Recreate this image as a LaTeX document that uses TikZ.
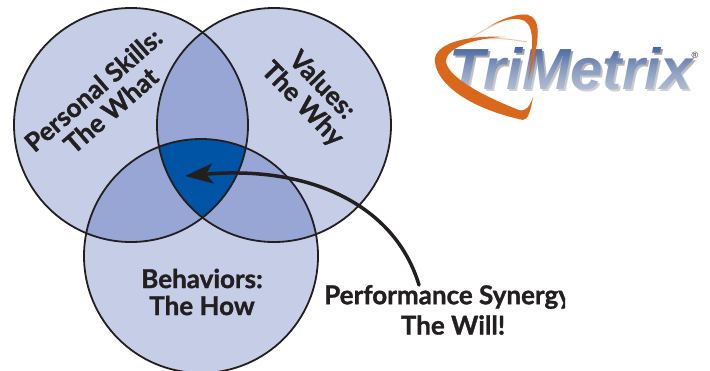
\documentclass[tikz,border=0pt]{standalone}
\usepackage{fontspec}
\setmainfont{Lato}[BoldFeatures={FakeBold=1.2}]
\newfontfamily\logofont{Liberation Sans}
\usetikzlibrary{arrows.meta}
\definecolor{vennlight}{HTML}{C5CDE7}
\definecolor{vennmid}{HTML}{97A6D4}
\definecolor{venndark}{HTML}{0054A6}
\definecolor{inkblack}{HTML}{231F20}
\definecolor{swoosh}{HTML}{D9681D}
\definecolor{swooshpale}{HTML}{F0C8A8}
\definecolor{logoblue}{HTML}{2A4E94}
\newcommand{\logoword}{\logofont\fontsize{58}{58}\selectfont\bfseries\itshape}
\tikzset{
    venn/.style={circle,draw=inkblack,line width=1.8pt,minimum size=234pt,inner sep=0pt},
    vennlabel/.style={text=inkblack,font=\fontsize{26}{27}\selectfont\bfseries,align=center},
    logoshape/.style={fill=swoosh,draw=none}
}
\begin{document}
\begin{tikzpicture}[x=1pt,y=-1pt]
    \useasboundingbox (0,0) rectangle (710,370);
    \begin{scope}
        \clip (0,0) rectangle (710,370);
        % fills of the three circles and their overlaps
        \fill[vennlight] (131,125) circle (117pt) (274,125) circle (117pt) (201,256) circle (117pt);
        \begin{scope}
            \clip (131,125) circle (117pt);
            \fill[vennmid] (274,125) circle (117pt);
            \fill[vennmid] (201,256) circle (117pt);
        \end{scope}
        \begin{scope}
            \clip (274,125) circle (117pt);
            \fill[vennmid] (201,256) circle (117pt);
            \clip (131,125) circle (117pt);
            \fill[venndark] (201,256) circle (117pt);
        \end{scope}
        \node[venn] (skills) at (131,125) {};
        \node[venn] (values) at (274,125) {};
        \node[venn] (behaviors) at (201,256) {};
    \end{scope}
    \node[vennlabel,rotate=41] (skillslabel) at (102,100) {Personal Skills:\\The What};
    \node[vennlabel,rotate=-46] (valueslabel) at (312,95) {Values:\\The Why};
    \node[vennlabel] (behaviorslabel) at (202,292) {Behaviors:\\The How};
    \begin{scope}
        \clip (300,270) rectangle (565,350);
        \node[vennlabel,anchor=west,inner sep=0pt] (synergylabel) at (324,297) {Performance Synergy};
    \end{scope}
    \node[vennlabel] (willlabel) at (453,325) {The Will!};
    \coordinate (arrowstart) at (419,285);
    \coordinate (arrowtip) at (185,176);
    \draw[inkblack,line width=3.5pt,line cap=round,-{Stealth[length=28pt,width=20pt,inset=7pt]}] (arrowstart) .. controls (395,205) and (310,165) .. (arrowtip);
    % logo
    \node[text=black!45,font=\logoword] (logoshadow) at (573,71) {TriMetrix};
    \node[text=logoblue,font=\logoword] (logotext) at (571,69) {TriMetrix};
    \foreach \n in {0,...,29}
        \fill[white,opacity=0.045] (445,42+2*\n) rectangle (705,102);
    \draw[swooshpale,line width=1pt] (463,43) .. controls (490,25) and (515,14) .. (528,15);
    \draw[swooshpale,line width=1pt] (527,42) .. controls (505,38) and (480,36) .. (460,42);
    \fill[logoshape] (505,37) .. controls (470,35) and (438,42) .. (435,58) .. controls (433,75) and (455,105) .. (523,120) .. controls (528,120) and (531,110) .. (533,97) .. controls (530,106) and (526,112) .. (519,110) .. controls (480,95) and (445,75) .. (446,60) .. controls (448,47) and (475,38) .. (505,37) -- cycle;
    \fill[logoshape] (488,27) .. controls (505,17) and (520,13) .. (528,15) .. controls (540,18) and (542,35) .. (528,80) .. controls (533,50) and (535,28) .. (525,21) .. controls (515,16) and (500,21) .. (488,27) -- cycle;
    \node[text=inkblack,font=\logofont\fontsize{9}{9}\selectfont] (regmark) at (695,55) {®};
\end{tikzpicture}
\end{document}
